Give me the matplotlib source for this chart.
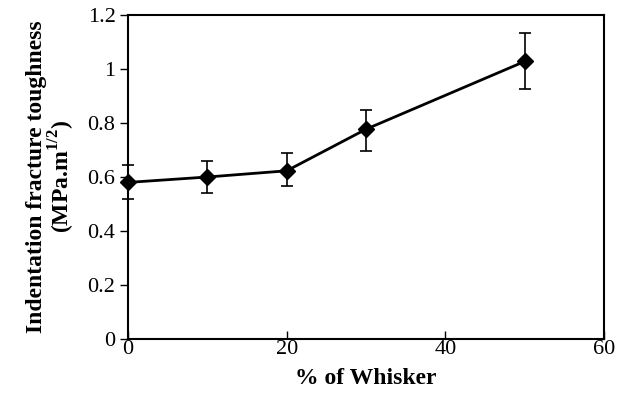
import matplotlib
matplotlib.use("Agg")
import matplotlib.pyplot as plt

whisker_pct = [0, 10, 20, 30, 50]
toughness = [0.58, 0.60, 0.623, 0.777, 1.028]
err_lower = [0.06, 0.058, 0.056, 0.082, 0.103]
err_upper = [0.063, 0.06, 0.067, 0.073, 0.105]
x_ticks = [0, 20, 40, 60]
y_ticks = [0, 0.2, 0.4, 0.6, 0.8, 1.0, 1.2]
y_tick_labels = ["0", "0.2", "0.4", "0.6", "0.8", "1", "1.2"]

plt.rcParams['font.family'] = ['Liberation Serif', 'DejaVu Serif']
plt.rcParams['mathtext.fontset'] = 'custom'
plt.rcParams['mathtext.rm'] = 'Liberation Serif'
plt.rcParams['mathtext.bf'] = 'Liberation Serif:bold'

fig = plt.figure(figsize=(6.25, 3.98), dpi=100)
ax = fig.add_axes([0.2048, 0.1482, 0.7616, 0.8141])

ax.errorbar(whisker_pct, toughness, yerr=[err_lower, err_upper],
            color='black', linewidth=2.0, marker='D', markersize=8.5,
            ecolor='black', elinewidth=1.2, capsize=4.5, capthick=1.2,
            clip_on=False, zorder=3)

ax.set_xlim(0, 60)
ax.set_ylim(0, 1.2)
ax.set_xticks(x_ticks)
ax.set_yticks(y_ticks)
ax.set_yticklabels(y_tick_labels)
ax.tick_params(axis='x', direction='in', length=6, width=1.0, labelsize=16, pad=1)
ax.tick_params(axis='y', direction='out', length=6, width=1.0, labelsize=16, pad=3)
for s in ax.spines.values():
    s.set_linewidth(1.5)

ax.set_xlabel('% of Whisker', fontsize=17, fontweight='bold', labelpad=6)
ax.set_ylabel('Indentation fracture toughness\n(MPa.m$^{\\mathbf{1/2}}$)',
              fontsize=17, fontweight='bold', labelpad=8, linespacing=0.95)

fig.savefig('out.png', dpi=100)
